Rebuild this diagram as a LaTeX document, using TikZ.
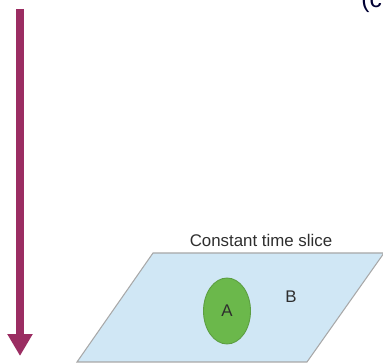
\documentclass[tikz,border=0pt]{standalone}
\usepackage{fontspec}
\setmainfont{Liberation Sans}
\usepackage{xcolor}
\usepackage{tikz}
\usetikzlibrary{arrows.meta, positioning, shapes.geometric}
\definecolor{timemaroon}{HTML}{9B2D62}
\definecolor{sliceblue}{HTML}{D0E7F5}
\definecolor{sliceedge}{HTML}{A8A8A8}
\definecolor{regiongreen}{HTML}{6BB84B}
\definecolor{regionedge}{HTML}{5C9E42}
\definecolor{labelgray}{HTML}{2E2E2E}
\tikzset{
  timearrow/.style={-{Triangle[width=13.6pt,length=12.5pt]},line width=4.5pt,timemaroon},
  slicebox/.style={fill=sliceblue,draw=sliceedge,line width=0.6pt},
  regionA/.style={ellipse,fill=regiongreen,draw=regionedge,line width=0.5pt,
    minimum width=0.94cm,minimum height=1.32cm,inner sep=0pt,
    font=\fontsize{9.6}{11}\selectfont,text=labelgray},
  txtlabel/.style={font=\fontsize{9.6}{11}\selectfont,text=labelgray,inner sep=0pt},
}

\begin{document}
\begin{tikzpicture}[x=0.02cm,y=-0.02cm]
  \useasboundingbox (0,0) rectangle (383,364);
  \clip (0,0) rectangle (383,364);
  % ---- time direction ----
  \coordinate (ttop) at (20,9);
  \coordinate (tbot) at (20,356);
  \draw[timearrow] (ttop) -- (tbot);
  % ---- constant time slice ----
  \coordinate (sTL) at (153,253);
  \coordinate (sTR) at (384,253);
  \coordinate (sBR) at (307,362);
  \coordinate (sBL) at (77,362);
  \draw[slicebox] (sTL) -- (sTR) -- (sBR) -- (sBL) -- cycle;
  \node[regionA] (A) at (227,311) {A};
  \node[txtlabel] (B) at (291,297) {B};
  \node[txtlabel,anchor=base] (slice) at (261,247) {Constant time slice};
  % clipped caption at the top edge
  \node[txtlabel,anchor=base west,font=\fontsize{14}{16}\selectfont,text=black!80!blue] (cap) at (361,8) {(c};
\end{tikzpicture}
\end{document}
